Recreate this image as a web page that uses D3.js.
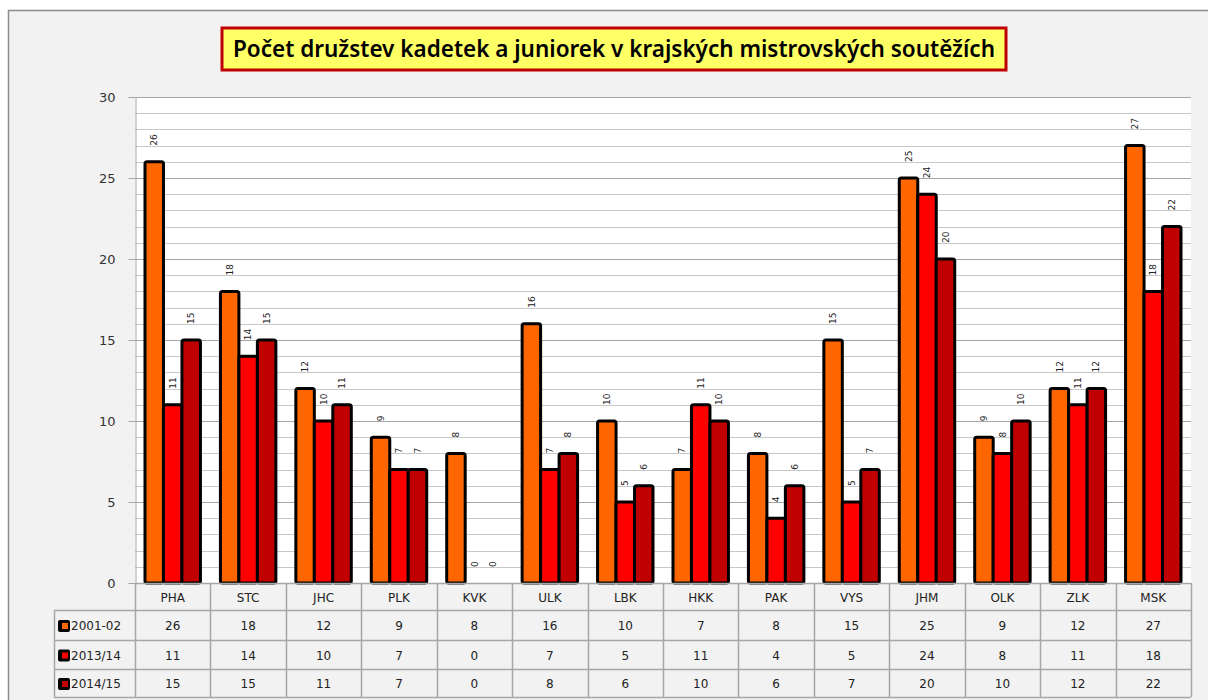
<!DOCTYPE html>
<html>
<head>
<meta charset="utf-8">
<script src="https://cdnjs.cloudflare.com/ajax/libs/d3/7.8.5/d3.min.js"></script>
<style>
  body { margin: 0; background: #fff; }
  svg { display: block; }
</style>
</head>
<body>
<svg id="chart" width="1208" height="700"></svg>
<script>
var categories = ["PHA", "STC", "JHC", "PLK", "KVK", "ULK", "LBK", "HKK", "PAK", "VYS", "JHM", "OLK", "ZLK", "MSK"];
var seriesNames = ["2001-02", "2013/14", "2014/15"];
var s2001 = [26, 18, 12, 9, 8, 16, 10, 7, 8, 15, 25, 9, 12, 27];
var s2013 = [11, 14, 10, 7, 0, 7, 5, 11, 4, 5, 24, 8, 11, 18];
var s2014 = [15, 15, 11, 7, 0, 8, 6, 10, 6, 7, 20, 10, 12, 22];
var seriesColors = ["#ff6600", "#ff0000", "#c00000"];
var yTicks = [0, 5, 10, 15, 20, 25, 30];
var titleText = "Počet družstev kadetek a juniorek v krajských mistrovských soutěžích";

var values = [s2001, s2013, s2014];

var svg = d3.select("#chart");
var plot = {left: 135, right: 1191, top: 97, bottom: 583};

// chart frame
svg.append("rect")
  .attr("x", 8.5).attr("y", 10.5)
  .attr("width", 1260).attr("height", 760)
  .attr("fill", "#f2f2f2")
  .attr("stroke", "#8c8c8c")
  .attr("stroke-width", 1.5);

// title box
svg.append("rect")
  .attr("x", 222).attr("y", 28)
  .attr("width", 784).attr("height", 42)
  .attr("fill", "#ffff66")
  .attr("stroke", "#c00000")
  .attr("stroke-width", 3);
svg.append("text")
  .attr("x", 614).attr("y", 57)
  .attr("text-anchor", "middle")
  .attr("font-family", "'Noto Sans', sans-serif")
  .attr("font-weight", "600")
  .attr("font-size", 23)
  .attr("textLength", 762)
  .attr("lengthAdjust", "spacingAndGlyphs")
  .attr("fill", "#000")
  .text(titleText);

var x = d3.scaleBand().domain(categories).range([plot.left, plot.right]).padding(0);
var bw = x.bandwidth();
var groupW = bw * 0.735;
var x1 = d3.scaleBand().domain(seriesNames).range([(bw - groupW) / 2, (bw + groupW) / 2]).padding(0);
var y = d3.scaleLinear().domain([0, 30]).range([plot.bottom, plot.top]);

// plot background
svg.append("rect")
  .attr("x", plot.left).attr("y", plot.top)
  .attr("width", plot.right - plot.left).attr("height", plot.bottom - plot.top)
  .attr("fill", "#fff");

// gridlines
var minor = d3.range(0, 31);
svg.append("g").selectAll("line")
  .data(minor)
  .join("line")
  .attr("x1", plot.left).attr("x2", plot.right)
  .attr("y1", function(d) { return Math.round(y(d)) + 0.5; })
  .attr("y2", function(d) { return Math.round(y(d)) + 0.5; })
  .attr("stroke", function(d) { return d % 5 === 0 ? "#a6a6a6" : "#c8c8c8"; })
  .attr("stroke-width", 1.2);

// y axis
var yAxis = svg.append("g")
  .attr("transform", "translate(" + (plot.left + 0.5) + ",0)")
  .call(d3.axisLeft(y).tickValues(yTicks).tickSize(7).tickPadding(13));
yAxis.select(".domain").attr("stroke", "#a6a6a6");
yAxis.selectAll(".tick line").attr("stroke", "#a6a6a6");
yAxis.selectAll("text")
  .attr("font-family", "'DejaVu Sans', sans-serif")
  .attr("font-size", 13)
  .attr("fill", "#333");

// bars
var groups = svg.append("g").selectAll("g")
  .data(categories)
  .join("g")
  .attr("transform", function(d) { return "translate(" + x(d) + ",0)"; });

groups.selectAll("rect")
  .data(function(d, i) {
    return seriesNames.map(function(s, j) { return {s: s, j: j, v: values[j][i]}; });
  })
  .join("rect")
  .filter(function(d) { return d.v > 0; })
  .attr("x", function(d) { return x1(d.s); })
  .attr("y", function(d) { return y(d.v); })
  .attr("width", x1.bandwidth())
  .attr("height", function(d) { return y(0) - y(d.v); })
  .attr("rx", 2)
  .attr("fill", function(d) { return seriesColors[d.j]; })
  .attr("stroke", "#000")
  .attr("stroke-width", 3);

// data labels (rotated)
groups.selectAll("text")
  .data(function(d, i) {
    return seriesNames.map(function(s, j) { return {s: s, j: j, v: values[j][i]}; });
  })
  .join("text")
  .attr("transform", function(d) {
    var cx = x1(d.s) + x1.bandwidth() / 2;
    return "translate(" + cx + "," + (y(d.v) - 16) + ") rotate(-90)";
  })
  .attr("dy", "0.35em")
  .attr("font-family", "'DejaVu Sans', sans-serif")
  .attr("font-size", 9)
  .attr("fill", "#222")
  .text(function(d) { return d.v; });

// data table
var tbl = {top: 583, header: 610, rows: [610, 640, 669, 697], legendLeft: 54};
var tg = svg.append("g");
var lineColor = "#a6a6a6";

// horizontal lines
tg.append("line").attr("x1", plot.left).attr("x2", plot.right)
  .attr("y1", tbl.top + 0.5).attr("y2", tbl.top + 0.5).attr("stroke", lineColor).attr("stroke-width", 1.5);
tg.selectAll("line.h")
  .data(tbl.rows)
  .join("line")
  .attr("class", "h")
  .attr("x1", tbl.legendLeft).attr("x2", plot.right)
  .attr("y1", function(d) { return d + 0.5; })
  .attr("y2", function(d) { return d + 0.5; })
  .attr("stroke", lineColor).attr("stroke-width", 1.5);

// vertical lines
var vx = categories.map(function(c) { return x(c); }).concat([plot.right]);
tg.selectAll("line.v")
  .data(vx)
  .join("line")
  .attr("class", "v")
  .attr("x1", function(d) { return Math.round(d) + 0.5; })
  .attr("x2", function(d) { return Math.round(d) + 0.5; })
  .attr("y1", tbl.top).attr("y2", tbl.rows[3])
  .attr("stroke", lineColor).attr("stroke-width", 1.5);
tg.append("line")
  .attr("x1", tbl.legendLeft + 0.5).attr("x2", tbl.legendLeft + 0.5)
  .attr("y1", tbl.rows[0]).attr("y2", tbl.rows[3])
  .attr("stroke", lineColor).attr("stroke-width", 1.5);

// category labels
tg.selectAll("text.cat")
  .data(categories)
  .join("text")
  .attr("class", "cat")
  .attr("x", function(d) { return x(d) + bw / 2; })
  .attr("y", (tbl.top + tbl.header) / 2 + 1)
  .attr("dy", "0.35em")
  .attr("text-anchor", "middle")
  .attr("font-family", "'DejaVu Sans', sans-serif")
  .attr("font-size", 12)
  .attr("fill", "#222")
  .text(function(d) { return d; });

// rows
seriesNames.forEach(function(s, j) {
  var cy = (tbl.rows[j] + tbl.rows[j + 1]) / 2 + 1;
  var row = tg.append("g");
  row.append("rect")
    .attr("x", 58).attr("y", cy - 6)
    .attr("width", 12).attr("height", 12)
    .attr("rx", 2)
    .attr("fill", "#000");
  row.append("rect")
    .attr("x", 62).attr("y", cy - 3)
    .attr("width", 6).attr("height", 6)
    .attr("fill", seriesColors[j]);
  row.append("text")
    .attr("x", 71).attr("y", cy)
    .attr("dy", "0.35em")
    .attr("font-family", "'DejaVu Sans', sans-serif")
    .attr("font-size", 12)
    .attr("fill", "#222")
    .text(s);
  row.selectAll("text.val")
    .data(values[j])
    .join("text")
    .attr("class", "val")
    .attr("x", function(d, i) { return x(categories[i]) + bw / 2; })
    .attr("y", cy)
    .attr("dy", "0.35em")
    .attr("text-anchor", "middle")
    .attr("font-family", "'DejaVu Sans', sans-serif")
    .attr("font-size", 12)
    .attr("fill", "#222")
    .text(function(d) { return d; });
});
</script>
</body>
</html>
